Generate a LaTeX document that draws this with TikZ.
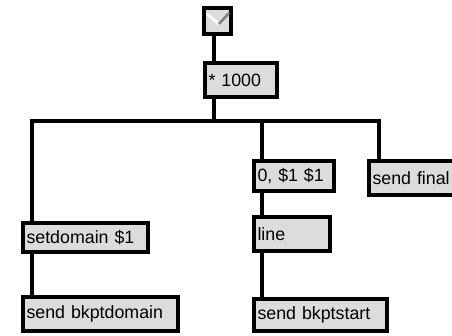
\documentclass[tikz,border=0pt]{standalone}
\usepackage{fontspec}
\setmainfont{Liberation Sans}
\usepackage{tikz}
\definecolor{boxgray}{HTML}{DCDCDC}
\definecolor{togline}{HTML}{7F7F7F}
\tikzset{
  obj/.style={rectangle, draw=black, line width=4pt, fill=boxgray, anchor=north west,
              align=left, font=\fontsize{17.8}{20}\selectfont, inner xsep=3.5pt,
              inner ysep=0pt, outer sep=0pt},
  tgl/.style={rectangle, draw=black, line width=4pt, fill=boxgray, anchor=north west,
              minimum width=27pt, minimum height=26pt, inner sep=0pt, outer sep=0pt},
  wire/.style={draw=black, line width=4pt}
}

\begin{document}
\begin{tikzpicture}[x=1pt, y=-1pt]
  \useasboundingbox (0,0) rectangle (452,335);
  \clip (0,0) rectangle (452,335);

  \node[tgl] (tog) at (204,8) {};
  \draw[white, line width=2.5pt] ([shift={(3pt,-6pt)}]tog.north west) -- ([shift={(15pt,-16pt)}]tog.north west);
  \draw[togline, line width=2.5pt] ([shift={(15pt,-16pt)}]tog.north west) -- ([shift={(25pt,-5pt)}]tog.north west);

  \node[obj, text width=65pt, minimum height=34pt] (mult) at (205,63) {* 1000};
  \node[obj, text width=73pt, minimum height=30pt] (zero) at (254,161) {0, \$1 \$1};
  \node[obj, text width=89pt, minimum height=34pt] (final) at (369,161) {send final};
  \node[obj, text width=118pt, minimum height=29pt] (setdom) at (23,223) {setdomain \$1};
  \node[obj, text width=69pt, minimum height=34pt] (line) at (254,217) {line};
  \node[obj, text width=148pt, minimum height=34pt] (sendbd) at (23,297) {send bkptdomain};
  \node[obj, text width=126pt, minimum height=32pt] (sendbs) at (254,299) {send bkptstart};

  \coordinate (bus) at (0,121);

  % wires
  \draw[wire] ([xshift=10pt]tog.south west) -- ([xshift=9pt]mult.north west);
  \draw[wire] ([xshift=9pt]mult.south west) -- ([xshift=9pt]mult.south west |- bus);
  \draw[wire] ([xshift=9pt]setdom.north west) |- ([xshift=10pt]final.north west |- bus)
              -- ([xshift=10pt]final.north west);
  \draw[wire] ([xshift=8pt]zero.north west |- bus) -- ([xshift=8pt]zero.north west);
  \draw[wire] ([xshift=8pt]zero.south west) -- ([xshift=8pt]line.north west);
  \draw[wire] ([xshift=8pt]line.south west) -- ([xshift=8pt]sendbs.north west);
  \draw[wire] ([xshift=9pt]setdom.south west) -- ([xshift=9pt]sendbd.north west);
\end{tikzpicture}
\end{document}
